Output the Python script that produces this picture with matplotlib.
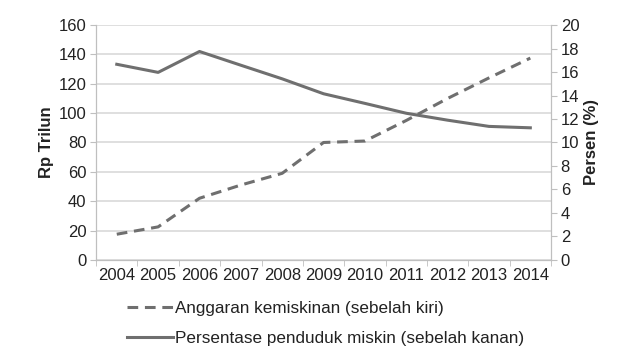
import matplotlib
matplotlib.use("Agg")
import matplotlib.pyplot as plt
from matplotlib.lines import Line2D

plt.rcParams['font.family'] = ['Liberation Sans', 'DejaVu Sans']

years = ['2004', '2005', '2006', '2007', '2008', '2009', '2010', '2011', '2012', '2013', '2014']
anggaran = [17.5, 22.5, 42, 51, 59, 80, 81, 95, 110, 124, 137.5]
persentase = [16.66, 15.97, 17.75, 16.58, 15.42, 14.15, 13.33, 12.49, 11.9, 11.37, 11.25]

label_left = 'Anggaran kemiskinan (sebelah kiri)'
label_right = 'Persentase penduduk miskin (sebelah kanan)'

line_color = '#6f6f6f'
text_color = '#222222'
grid_color = '#d9d9d9'
spine_color = '#bfbfbf'

fig = plt.figure(figsize=(6.24, 3.58), dpi=100)
fig.patch.set_facecolor('white')
ax = fig.add_axes([0.154, 0.274, 0.729, 0.656])
ax2 = ax.twinx()

x = list(range(len(years)))
ax.plot(x, anggaran, color=line_color, lw=2.2, dashes=(3.5, 2.2))
ax2.plot(x, persentase, color=line_color, lw=2.2)

tick_fs = 12
ax.set_xlim(-0.5, len(years) - 0.5)
ax.set_ylim(0, 160)
ax.set_yticks(range(0, 161, 20))
ax2.set_ylim(0, 20)
ax2.set_yticks(range(0, 21, 2))
ax.set_xticks(x)
ax.set_xticklabels(years)
ax.set_xticks([i - 0.5 for i in range(len(years) + 1)], minor=True)
ax.tick_params(axis='x', which='major', length=0, pad=6, labelsize=tick_fs, colors=text_color)
ax.tick_params(axis='x', which='minor', length=4, color=spine_color, direction='out')
ax.tick_params(axis='y', length=4, color=spine_color, labelsize=tick_fs, colors=text_color, pad=3)
ax2.tick_params(axis='y', length=4, color=spine_color, labelsize=tick_fs, colors=text_color, pad=3)
for t in ax.get_yticklabels() + ax2.get_yticklabels():
    t.set_color(text_color)

ax.yaxis.grid(True, color=grid_color, lw=1.2)
ax.set_axisbelow(True)
for a in (ax, ax2):
    a.spines['top'].set_visible(False)
    for s in ('left', 'right', 'bottom'):
        a.spines[s].set_color(spine_color)
ax.set_ylabel('Rp Trilun', fontsize=12, fontweight='bold', color=text_color, labelpad=3)
ax2.set_ylabel('Persen (%)', fontsize=12, fontweight='bold', color=text_color, labelpad=3)

handles = [Line2D([], [], color=line_color, lw=2.2, dashes=(3.5, 2.2)),
           Line2D([], [], color=line_color, lw=2.2)]
fig.legend(handles, [label_left, label_right], loc='upper left',
           bbox_to_anchor=(0.19, 0.182), frameon=False, fontsize=12.3,
           handlelength=2.7, handletextpad=0.1, labelspacing=0.85, labelcolor=text_color,
           borderpad=0)

fig.savefig('out.png', dpi=100)
